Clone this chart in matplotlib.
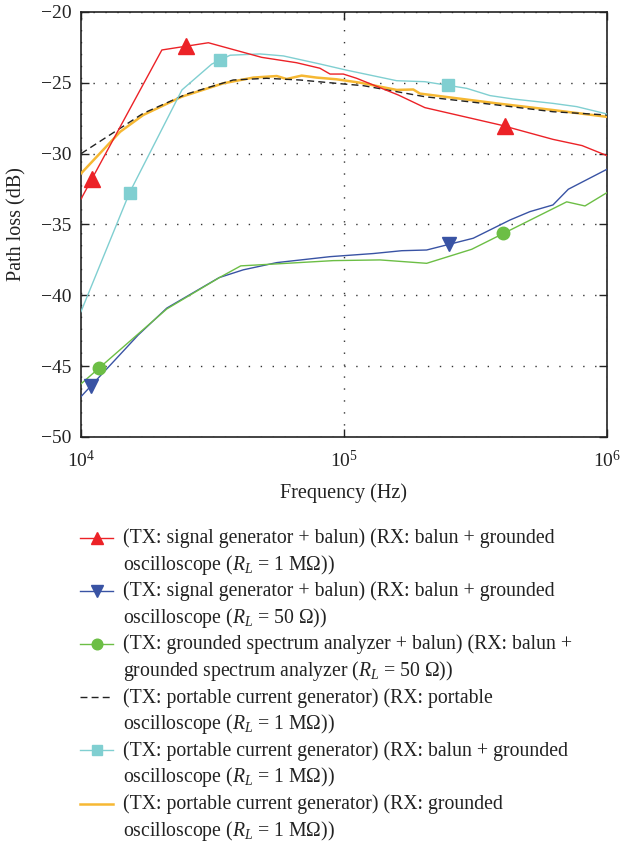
import numpy as np
import matplotlib
matplotlib.use("Agg")
import matplotlib.pyplot as plt
from matplotlib.lines import Line2D

plt.rcParams['font.family'] = ['Liberation Serif', 'DejaVu Serif']
plt.rcParams['mathtext.fontset'] = 'custom'
plt.rcParams['mathtext.rm'] = 'Liberation Serif'
plt.rcParams['mathtext.it'] = 'Liberation Serif:italic'

# ---------------- data ----------------
red_f = [10e3, 20.3e3, 30.5e3, 48.6e3, 66e3, 81e3, 88.5e3, 99.4e3, 111.7e3,
         160.9e3, 203e3, 392e3, 623e3, 804e3, 1e6]
red_db = [-33.2, -22.68, -22.17, -23.2, -23.58, -23.97, -24.38, -24.38, -24.68,
          -25.86, -26.75, -27.97, -28.99, -29.43, -30.14]

blue_f = [10e3, 16.5e3, 21.2e3, 33.5e3, 41.4e3, 55.5e3, 88.5e3, 129.2e3, 165.8e3,
          206.2e3, 310e3, 428e3, 509.5e3, 623e3, 712.8e3, 1e6]
blue_db = [-47.15, -42.8, -40.9, -38.75, -38.2, -37.69, -37.27, -37.05, -36.85,
           -36.8, -35.97, -34.68, -34.09, -33.62, -32.51, -31.1]

green_f = [10e3, 21.2e3, 33.8e3, 40.5e3, 55.5e3, 91e3, 137e3, 206.2e3, 305.9e3,
           702.8e3, 824.6e3, 1e6]
green_db = [-46.25, -40.96, -38.72, -37.92, -37.78, -37.55, -37.5, -37.74, -36.75,
            -33.4, -33.69, -32.75]

black_f = [10e3, 17.25e3, 25.2e3, 37.9e3, 50.8e3, 68e3, 99.4e3, 118.4e3, 203e3,
           380.7e3, 623e3, 1e6]
black_db = [-30.0, -27.15, -25.79, -24.8, -24.68, -24.8, -25.08, -25.2, -25.98,
            -26.56, -27.04, -27.27]

cyan_f = [10e3, 15.3e3, 24.2e3, 31.4e3, 36.9e3, 47.9e3, 58.8e3, 81e3, 102e3,
          158.6e3, 203e3, 293e3, 359e3, 439e3, 623e3, 767e3, 1e6]
cyan_db = [-41.15, -32.75, -25.5, -23.68, -23.05, -22.96, -23.1, -23.67, -24.1,
           -24.85, -24.92, -25.39, -25.9, -26.14, -26.45, -26.68, -27.2]

yellow_f = [10e3, 14.1e3, 17.25e3, 24.15e3, 34.8e3, 45.2e3, 55.5e3, 60.5e3, 69e3,
            78.7e3, 93.7e3, 115e3, 158.6e3, 183.4e3, 194.5e3, 380.7e3, 623e3, 1e6]
yellow_db = [-31.4, -28.45, -27.27, -25.98, -25.03, -24.63, -24.52, -24.73, -24.49,
             -24.63, -24.75, -24.99, -25.5, -25.47, -25.76, -26.45, -26.92, -27.4]

# marker frequencies (markers sit on the curves)
red_mk = [11e3, 25e3, 409e3]
blue_mk = [10.9e3, 250e3]
green_mk = [11.7e3, 404e3]
cyan_mk = [15.3e3, 33.8e3, 248e3]

labels = [
    ["(TX: signal generator + balun) (RX: balun + grounded",
     "oscilloscope ($R_L$ = 1 MΩ))"],
    ["(TX: signal generator + balun) (RX: balun + grounded",
     "oscilloscope ($R_L$ = 50 Ω))"],
    ["(TX: grounded spectrum analyzer + balun) (RX: balun +",
     "grounded spectrum analyzer ($R_L$ = 50 Ω))"],
    ["(TX: portable current generator) (RX: portable",
     "oscilloscope ($R_L$ = 1 MΩ))"],
    ["(TX: portable current generator) (RX: balun + grounded",
     "oscilloscope ($R_L$ = 1 MΩ))"],
    ["(TX: portable current generator) (RX: grounded",
     "oscilloscope ($R_L$ = 1 MΩ))"],
]

RED = '#EC2227'
BLUE = '#3953A4'
GREEN = '#6CBE45'
BLACK = '#222222'
CYAN = '#80CFD1'
YELLOW = '#F6B833'

series = [
    dict(f=red_f, y=red_db, mk=red_mk, c=RED, m='^', ms=11, ls='-', lw=1.0),
    dict(f=blue_f, y=blue_db, mk=blue_mk, c=BLUE, m='v', ms=10, ls='-', lw=1.0),
    dict(f=green_f, y=green_db, mk=green_mk, c=GREEN, m='o', ms=9, ls='-', lw=1.0),
    dict(f=black_f, y=black_db, mk=[], c=BLACK, m=None, ms=0, ls=(0, (5, 3)), lw=1.0),
    dict(f=cyan_f, y=cyan_db, mk=cyan_mk, c=CYAN, m='s', ms=9, ls='-', lw=1.0),
    dict(f=yellow_f, y=yellow_db, mk=[], c=YELLOW, m=None, ms=0, ls='-', lw=1.8),
]

W, H = 622, 844
fig = plt.figure(figsize=(W / 100, H / 100), dpi=100)
ax = fig.add_axes([81 / W, 1 - 437 / H, (607 - 81) / W, (437 - 12) / H])

draw_order = [5, 3, 4, 1, 2, 0]
for i in draw_order:
    s = series[i]
    ax.plot(s['f'], s['y'], color=s['c'], ls=s['ls'], lw=s['lw'], zorder=3)
    if s['mk']:
        lf = np.log10(s['f'])
        my = np.interp(np.log10(s['mk']), lf, s['y'])
        ax.plot(s['mk'], my, ls='none', marker=s['m'], ms=s['ms'],
                color=s['c'], mec=s['c'], zorder=4, clip_on=False)

ax.set_xscale('log')
ax.set_xlim(1e4, 1e6)
ax.set_ylim(-50, -20)
ax.set_yticks([-50, -45, -40, -35, -30, -25, -20])
ax.set_xticks([1e4, 1e5, 1e6])
ax.xaxis.set_minor_locator(matplotlib.ticker.NullLocator())
ax.tick_params(direction='in', length=6, width=1.0, top=True, right=True,
               labelsize=14, colors='#222222')
ax.tick_params(axis='y', pad=7)
ax.tick_params(axis='x', pad=9)
ax.grid(True, which='major', color='#333333', ls=(0, (1, 7.6)), lw=1.0)
for sp in ax.spines.values():
    sp.set_linewidth(1.2)
    sp.set_color('#222222')

ax.set_xlabel('Frequency (Hz)', fontsize=14.5, color='#222222', labelpad=9)
ax.set_ylabel('Path loss (dB)', fontsize=14.5, color='#222222', labelpad=10)

# ---------------- legend (manual, below axes) ----------------
base0 = 543.0
step = 26.6
for k, s in enumerate(series):
    yb = base0 + step * 2 * k
    yl = 1 - (yb - 5.5) / H
    fig.add_artist(Line2D([80 / W, 113 / W], [yl, yl], color=s['c'], ls=s['ls'],
                          lw=s['lw'], transform=fig.transFigure))
    if s['m']:
        fig.add_artist(Line2D([97 / W], [yl], color=s['c'], marker=s['m'],
                              ms=s['ms'] * 0.85, ls='none', transform=fig.transFigure))
    for j, line in enumerate(labels[k]):
        fig.text(123 / W, 1 - (yb + step * j) / H, line, fontsize=14.2,
                 va='baseline', ha='left', color='#222222')

fig.savefig('out.png', dpi=100)
